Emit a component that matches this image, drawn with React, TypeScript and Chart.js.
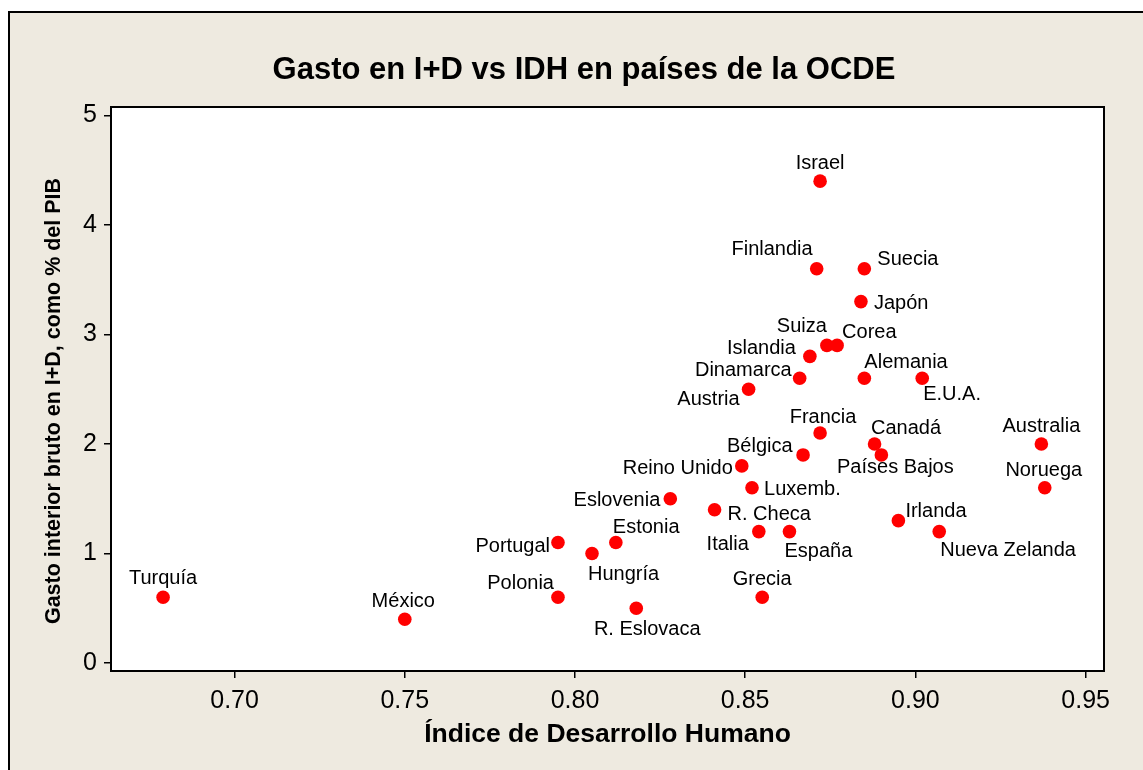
import React, { useEffect, useRef } from 'react';
import { Chart, registerables } from 'chart.js';

Chart.register(...registerables);

// ---- Data ----
const countries = [
  'Turquía', 'México', 'Portugal', 'Polonia', 'Hungría', 'Estonia', 'R. Eslovaca',
  'Eslovenia', 'R. Checa', 'Reino Unido', 'Austria', 'Luxemb.', 'Italia', 'Grecia',
  'España', 'Dinamarca', 'Bélgica', 'Islandia', 'Finlandia', 'Israel', 'Francia',
  'Suiza', 'Corea', 'Japón', 'Suecia', 'Alemania', 'Canadá', 'Países Bajos',
  'Irlanda', 'E.U.A.', 'Nueva Zelanda', 'Australia', 'Noruega',
];
const hdi = [
  0.679, 0.750, 0.795, 0.795, 0.805, 0.812, 0.818,
  0.828, 0.841, 0.849, 0.851, 0.852, 0.854, 0.855,
  0.863, 0.866, 0.867, 0.869, 0.871, 0.872, 0.872,
  0.874, 0.877, 0.884, 0.885, 0.885, 0.888, 0.890,
  0.895, 0.902, 0.907, 0.937, 0.938,
];
const rdSpending = [
  0.6, 0.4, 1.1, 0.6, 1.0, 1.1, 0.5,
  1.5, 1.4, 1.8, 2.5, 1.6, 1.2, 0.6,
  1.2, 2.6, 1.9, 2.8, 3.6, 4.4, 2.1,
  2.9, 2.9, 3.3, 3.6, 2.6, 2.0, 1.9,
  1.3, 2.6, 1.2, 2.0, 1.6,
];
const xTicks = [0.70, 0.75, 0.80, 0.85, 0.90, 0.95];
const yTicks = [0, 1, 2, 3, 4, 5];

const chartTitle = 'Gasto en I+D vs IDH en países de la OCDE';
const xTitle = 'Índice de Desarrollo Humano';
const yTitle = 'Gasto interior bruto en I+D, como % del PIB';

// ---- Label placement (style only): [dx, dy, align] relative to the point ----
const labelPlacement: Record<string, [number, number, CanvasTextAlign]> = {
  'Turquía': [0, -20, 'center'],
  'México': [-1.5, -19, 'center'],
  'Portugal': [-8, 2, 'right'],
  'Polonia': [-4, -15, 'right'],
  'Hungría': [-4, 19, 'left'],
  'Estonia': [-3, -16.5, 'left'],
  'R. Eslovaca': [11, 20, 'center'],
  'Eslovenia': [-10, 0, 'right'],
  'R. Checa': [13, 3, 'left'],
  'Reino Unido': [-9, 1, 'right'],
  'Austria': [-9, 9, 'right'],
  'Luxemb.': [12, 0, 'left'],
  'Italia': [-10, 11, 'right'],
  'Grecia': [0, -19.5, 'center'],
  'España': [-5, 18.5, 'left'],
  'Dinamarca': [-8, -9, 'right'],
  'Bélgica': [-10.5, -10.5, 'right'],
  'Islandia': [-14, -9.5, 'right'],
  'Finlandia': [-4, -21, 'right'],
  'Israel': [0, -19, 'center'],
  'Francia': [3, -17, 'center'],
  'Suiza': [0, -21, 'right'],
  'Corea': [5, -15, 'left'],
  'Japón': [13, 0, 'left'],
  'Suecia': [13, -10.5, 'left'],
  'Alemania': [0, -17, 'left'],
  'Canadá': [-3.5, -17, 'left'],
  'Países Bajos': [14, 11, 'center'],
  'Irlanda': [7, -10.5, 'left'],
  'E.U.A.': [1, 15, 'left'],
  'Nueva Zelanda': [1, 17, 'left'],
  'Australia': [0, -19, 'center'],
  'Noruega': [-1, -19, 'center'],
};

const BEIGE = 'rgb(238,234,224)';
const FONT = '"Liberation Sans", Arial, sans-serif';

const decorPlugin = {
  id: 'decor',
  beforeDraw(chart: any) {
    const { ctx, width, height, chartArea } = chart;
    ctx.save();
    ctx.fillStyle = '#ffffff';
    ctx.fillRect(0, 0, width, height);
    ctx.fillStyle = BEIGE;
    ctx.fillRect(9, 12, width, height);
    ctx.strokeStyle = '#000';
    ctx.lineWidth = 2;
    ctx.beginPath();
    ctx.moveTo(9, height + 2);
    ctx.lineTo(9, 12);
    ctx.lineTo(width + 2, 12);
    ctx.stroke();
    ctx.fillStyle = '#ffffff';
    ctx.fillRect(chartArea.left, chartArea.top, chartArea.right - chartArea.left, chartArea.bottom - chartArea.top);
    ctx.restore();
  },
  afterDatasetsDraw(chart: any) {
    const { ctx, chartArea } = chart;
    ctx.save();
    // plot border
    ctx.strokeStyle = '#000';
    ctx.lineWidth = 2;
    ctx.strokeRect(chartArea.left, chartArea.top, chartArea.right - chartArea.left, chartArea.bottom - chartArea.top);

    // point labels
    const meta = chart.getDatasetMeta(0);
    const fs = 20;
    ctx.font = `${fs}px ${FONT}`;
    ctx.fillStyle = '#000';
    ctx.textBaseline = 'alphabetic';
    meta.data.forEach((pt: any, i: number) => {
      const name = countries[i];
      const [dx, dy, align] = labelPlacement[name] || [0, -19, 'center'];
      ctx.textAlign = align;
      ctx.fillText(name, pt.x + dx, pt.y + dy + 0.358 * fs);
    });

    // chart title
    ctx.font = `bold 31px ${FONT}`;
    ctx.textAlign = 'center';
    ctx.fillText(chartTitle, 584, 79);

    // x title
    ctx.font = `bold 26.5px ${FONT}`;
    ctx.fillText(xTitle, (chartArea.left + chartArea.right) / 2, 741.5);

    // y title
    ctx.translate(59.5, 401);
    ctx.rotate(-Math.PI / 2);
    ctx.font = `bold 21.5px ${FONT}`;
    ctx.fillText(yTitle, 0, 0);
    ctx.restore();
  },
};

export default function App() {
  const canvasRef = useRef<HTMLCanvasElement | null>(null);

  useEffect(() => {
    if (!canvasRef.current) return;
    const chart = new Chart(canvasRef.current, {
      type: 'scatter',
      data: {
        datasets: [
          {
            data: hdi.map((x, i) => ({ x, y: rdSpending[i] })),
            backgroundColor: '#FF0000',
            borderColor: '#FF0000',
            borderWidth: 0,
            pointRadius: 6.8,
            pointHoverRadius: 6.8,
          },
        ],
      },
      options: {
        responsive: false,
        animation: false,
        devicePixelRatio: 1,
        events: [],
        layout: { padding: { left: 30, right: 39, top: 107, bottom: 19 } },
        plugins: {
          legend: { display: false },
          tooltip: { enabled: false },
          title: { display: false },
        },
        scales: {
          x: {
            type: 'linear',
            min: 0.6637,
            max: 0.9554,
            afterBuildTicks: (s: any) => {
              s.ticks = xTicks.map((v) => ({ value: v }));
            },
            afterFit: (s: any) => {
              s.height = 80;
            },
            grid: { drawOnChartArea: false, drawTicks: true, tickLength: 7, color: '#000', lineWidth: 1.5 },
            border: { display: false },
            ticks: {
              font: { family: FONT, size: 25 },
              color: '#000',
              padding: 8,
              maxRotation: 0,
              autoSkip: false,
              callback: (v: any) => Number(v).toFixed(2),
            },
          },
          y: {
            type: 'linear',
            min: -0.073,
            max: 5.077,
            afterBuildTicks: (s: any) => {
              s.ticks = yTicks.map((v) => ({ value: v }));
            },
            afterFit: (s: any) => {
              s.width = 81;
            },
            grid: { drawOnChartArea: false, drawTicks: true, tickLength: 7, color: '#000', lineWidth: 1.5 },
            border: { display: false },
            ticks: {
              font: { family: FONT, size: 25 },
              color: '#000',
              padding: 7,
              autoSkip: false,
              callback: (v: any) => String(v),
            },
          },
        },
      },
      plugins: [decorPlugin],
    });
    return () => chart.destroy();
  }, []);

  return (
    <div style={{ position: 'absolute', left: 0, top: 0, width: 1143, height: 770 }}>
      <canvas ref={canvasRef} width={1143} height={770} style={{ display: 'block' }} />
    </div>
  );
}
